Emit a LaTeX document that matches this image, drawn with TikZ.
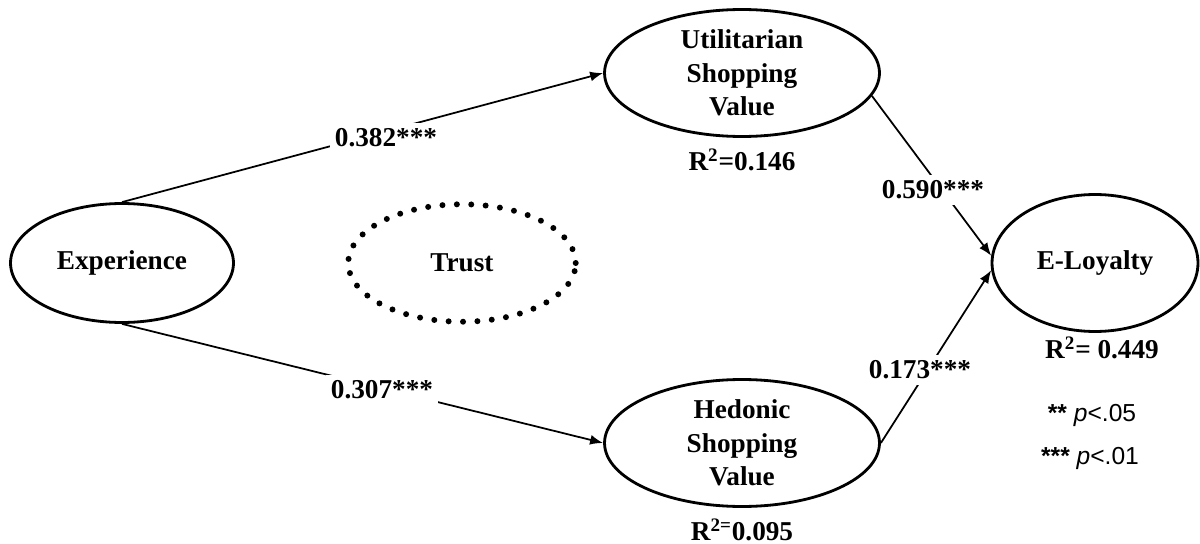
\documentclass[tikz,border=0pt]{standalone}
\usepackage{fontspec}
\setmainfont{Liberation Serif}
\newfontfamily\legendfont{Liberation Sans}
\usetikzlibrary{positioning, arrows.meta, shapes.geometric}

\begin{document}
\begin{tikzpicture}[
  x=0.02cm, y=-0.02cm,
  font=\fontsize{15.5}{19}\selectfont\bfseries,
  construct/.style={draw, ellipse, line width=1.6pt, align=center, inner sep=0pt},
  latent/.style={ellipse, draw, line width=3.4pt, line cap=round,
                 dash pattern=on 0pt off 8.2pt, minimum width=4.55cm, minimum height=2.35cm},
  coef/.style={fill=white, inner sep=3pt},
  arrow/.style={-{Latex[length=2.6mm, width=2mm]}, line width=1pt},
]
\useasboundingbox (0,0) rectangle (1200,544);

\node[construct, minimum width=4.46cm, minimum height=2.38cm] (exp) at (122,263) {Experience};
\node[latent] (trust) at (462,263) {Trust};
\node[construct, minimum width=5.5cm, minimum height=2.54cm] (util) at (742,73) {Utilitarian\\Shopping\\Value};
\node[construct, minimum width=5.5cm, minimum height=2.54cm] (hed) at (742,443) {Hedonic\\Shopping\\Value};
\node[construct, minimum width=4.12cm, minimum height=2.74cm] (loyal) at (1095,263) {E-Loyalty};

\node (r2util) at (742,160) {R\textsuperscript{2}=0.146};
\node (r2hed) at (742,530) {R\textsuperscript{2=}0.095};
\node (r2loyal) at (1102,348) {R\textsuperscript{2}= 0.449};

\draw[arrow] (exp.north) -- (util.west);
\draw[arrow] (exp.south) -- (hed.west);
\draw[arrow] (util.-10) -- (loyal.176);
\draw[arrow] (hed.east) -- (loyal.184);

\node[coef] (b1) at (386,138) {0.382***};
\node[coef] (b2) at (382,390) {0.307***};
\node[coef] (b3) at (933,190) {0.590***};
\node[coef] (b4) at (920,370) {0.173***};

\node[font=\legendfont\fontsize{14}{16}\selectfont] (sig2) at (1092,415) {\textbf{**} \textit{p}<.05};
\node[font=\legendfont\fontsize{14}{16}\selectfont] (sig3) at (1090,458) {\textbf{***} \textit{p}<.01};
\end{tikzpicture}
\end{document}
